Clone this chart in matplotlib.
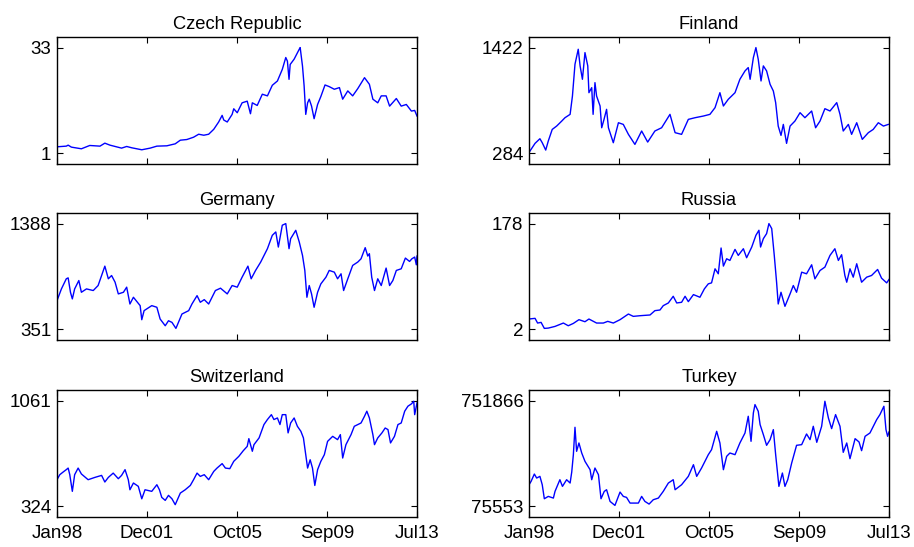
import numpy as np
from matplotlib import pyplot as plt

# time axis is years since Jan 1998
czech_t = [0.00, 0.40, 0.48, 0.62, 1.05, 1.41, 1.85, 2.06, 2.28, 2.78, 3.00, 3.22, 3.65, 4.01,
           4.30, 4.73, 5.09, 5.31, 5.59, 5.88, 6.10, 6.32, 6.53, 6.75, 6.96, 7.11, 7.18, 7.33,
           7.54, 7.61, 7.76, 7.97, 8.19, 8.33, 8.41, 8.62, 8.84, 9.06, 9.27, 9.49, 9.70, 9.85,
           9.92, 9.99, 10.04, 10.21, 10.43, 10.47, 10.57, 10.64, 10.71, 10.79, 10.86, 10.96,
           11.07, 11.22, 11.36, 11.54, 11.72, 11.94, 12.16, 12.30, 12.52, 12.73, 12.95, 13.24,
           13.45, 13.60, 13.81, 13.96, 14.17, 14.32, 14.61, 14.82, 15.04, 15.26, 15.40, 15.50]
czech_v = [3.0, 3.2, 3.5, 2.9, 2.4, 3.4, 3.2, 4.1, 3.5, 2.6, 3.1, 2.7, 2.1, 2.6,
           3.2, 3.3, 3.9, 5.0, 5.2, 5.9, 6.8, 6.5, 6.8, 8.3, 10.5, 12.5, 11.1, 10.5,
           12.8, 14.5, 13.3, 16.3, 16.8, 13.0, 16.3, 15.5, 18.9, 18.4, 21.6, 22.9, 26.4, 30.0,
           28.9, 23.4, 27.9, 29.5, 32.5, 33.0, 27.4, 21.4, 12.8, 16.3, 17.4, 15.3,
           11.5, 15.8, 18.2, 21.7, 21.2, 20.4, 20.9, 17.4, 19.9, 18.4, 20.6, 23.9,
           21.9, 17.4, 16.3, 18.4, 18.4, 15.3, 17.6, 15.3, 15.8, 13.8, 14.0, 12.3]

finland_t = [0.04, 0.26, 0.47, 0.57, 0.72, 0.83, 1.00, 1.19, 1.41, 1.55, 1.77, 1.87, 1.98, 2.12,
             2.20, 2.30, 2.41, 2.53, 2.58, 2.70, 2.76, 2.84, 2.91, 3.06, 3.13, 3.23, 3.34, 3.42,
             3.63, 3.85, 4.06, 4.28, 4.56, 4.85, 5.11, 5.42, 5.71, 6.07, 6.29, 6.57, 6.86, 7.15,
             7.51, 7.79, 8.01, 8.22, 8.37, 8.58, 8.87, 9.08, 9.30, 9.44, 9.52, 9.66, 9.77, 9.87,
             9.99, 10.09, 10.23, 10.38, 10.52, 10.62, 10.73, 10.85, 10.95, 11.09, 11.24, 11.45,
             11.67, 11.88, 12.17, 12.34, 12.53, 12.74, 12.96, 13.25, 13.39, 13.53, 13.75, 13.89,
             14.11, 14.35, 14.61, 14.82, 15.04, 15.26, 15.47]
finland_v = [309, 392, 442, 399, 320, 417, 542, 578, 632, 668, 704, 901, 1243, 1404,
             1225, 1081, 1368, 1225, 937, 991, 704, 1045, 901, 794, 560, 650, 758, 560,
             399, 614, 596, 489, 381, 525, 406, 525, 560, 704, 507, 489, 650, 668,
             686, 704, 776, 937, 794, 866, 937, 1081, 1171, 1207, 1081, 1314, 1422, 1296,
             1063, 1225, 1171, 1027, 955, 830, 578, 478, 596, 392, 578, 632,
             722, 668, 740, 560, 632, 765, 740, 830, 704, 525, 596, 489,
             614, 435, 507, 542, 614, 578, 596]

germany_t = [0.00, 0.19, 0.40, 0.48, 0.58, 0.66, 0.76, 0.94, 1.05, 1.27, 1.56, 1.77, 1.92, 2.06,
             2.21, 2.35, 2.50, 2.64, 2.86, 3.00, 3.14, 3.29, 3.58, 3.65, 3.75, 4.08, 4.30, 4.44,
             4.66, 4.80, 4.95, 5.12, 5.38, 5.67, 5.81, 6.03, 6.17, 6.34, 6.53, 6.82, 7.04, 7.33,
             7.54, 7.76, 7.97, 8.22, 8.36, 8.55, 8.77, 9.06, 9.27, 9.42, 9.53, 9.70, 9.85, 9.99,
             10.06, 10.28, 10.43, 10.57, 10.67, 10.76, 10.86, 10.96, 11.07, 11.22, 11.36, 11.58,
             11.72, 11.94, 12.08, 12.23, 12.34, 12.52, 12.73, 12.95, 13.09, 13.27, 13.38, 13.45,
             13.55, 13.67, 13.81, 13.96, 14.17, 14.32, 14.46, 14.61, 14.82, 15.00, 15.18, 15.28,
             15.40, 15.47, 15.50]
germany_v = [633, 748, 847, 856, 715, 650, 748, 830, 715, 748, 732, 781, 879, 971,
             847, 879, 814, 699, 715, 765, 600, 666, 584, 446, 535, 584, 568, 453,
             387, 436, 420, 361, 502, 535, 600, 682, 617, 643, 600, 732, 755, 699,
             781, 765, 863, 971, 847, 929, 1011, 1142, 1273, 1306, 1158, 1372, 1388, 1142,
             1240, 1322, 1208, 1076, 929, 666, 781, 699, 568, 715, 797, 863,
             929, 912, 847, 896, 732, 847, 978, 1011, 1043, 1152, 1070, 1093,
             863, 732, 847, 781, 952, 781, 830, 929, 945, 1050, 1017, 1043,
             1060, 984, 1070]

russia_t = [0.00, 0.26, 0.37, 0.52, 0.66, 0.83, 1.12, 1.48, 1.69, 1.91, 2.15, 2.41, 2.58, 2.91,
            3.20, 3.39, 3.63, 3.92, 4.28, 4.49, 4.78, 5.21, 5.42, 5.64, 5.78, 6.00, 6.21, 6.36,
            6.57, 6.72, 6.86, 7.08, 7.36, 7.55, 7.72, 7.86, 8.01, 8.15, 8.27, 8.37, 8.51, 8.65,
            8.87, 9.01, 9.23, 9.37, 9.59, 9.77, 9.90, 9.97, 10.09, 10.23, 10.33, 10.45, 10.56,
            10.66, 10.73, 10.85, 11.02, 11.24, 11.38, 11.52, 11.74, 11.95, 12.17, 12.31, 12.53,
            12.74, 12.96, 13.17, 13.32, 13.46, 13.60, 13.68, 13.82, 13.96, 14.11, 14.32, 14.54,
            14.75, 15.01, 15.18, 15.40, 15.50]
russia_v = [19.3, 20.4, 12.6, 13.7, 3.7, 4.2, 7.0, 12.6, 8.1, 12.0, 18.2, 14.8, 19.3, 12.6,
            12.6, 15.4, 12.6, 18.2, 27.6, 23.7, 24.8, 26.0, 33.2, 34.3, 41.5, 46.0, 57.1, 46.0,
            47.1, 57.1, 48.2, 59.9, 55.5, 69.4, 77.8, 79.4, 102.8, 94.5, 137.4, 107.3, 119.5, 116.7,
            135.1, 125.1, 136.2, 121.2, 139.0, 158.5, 166.9, 139.0, 152.9, 161.3, 178.0, 169.7, 125.1,
            80.5, 44.3, 63.8, 40.4, 61.0, 75.0, 63.8, 97.2, 94.5, 109.5, 86.1, 100.0,
            105.6, 125.1, 136.2, 116.7, 126.2, 91.7, 80.5, 102.8, 88.9, 111.2, 80.5, 88.9,
            91.7, 101.7, 87.2, 79.4, 85.0]

swiss_t = [0.00, 0.12, 0.26, 0.40, 0.48, 0.55, 0.66, 0.76, 0.91, 1.05, 1.34, 1.63, 1.92, 2.06,
           2.21, 2.42, 2.64, 2.78, 2.93, 3.07, 3.14, 3.29, 3.50, 3.65, 3.79, 4.08, 4.30, 4.41,
           4.51, 4.66, 4.80, 4.95, 5.09, 5.31, 5.52, 5.74, 5.88, 6.03, 6.17, 6.34, 6.53, 6.75,
           6.89, 7.11, 7.25, 7.44, 7.61, 7.83, 8.02, 8.19, 8.26, 8.41, 8.48, 8.70, 8.91, 9.06,
           9.23, 9.34, 9.49, 9.60, 9.70, 9.85, 9.95, 10.06, 10.21, 10.35, 10.50, 10.61, 10.71,
           10.79, 10.90, 11.00, 11.10, 11.22, 11.36, 11.51, 11.65, 11.87, 12.08, 12.20, 12.30,
           12.44, 12.66, 12.80, 13.09, 13.24, 13.34, 13.45, 13.60, 13.67, 13.81, 13.99, 14.13,
           14.25, 14.36, 14.53, 14.68, 14.82, 14.97, 15.11, 15.26, 15.36, 15.40, 15.50]
swiss_v = [510, 545, 563, 580, 591, 545, 429, 545, 591, 550, 510, 526, 540, 494,
           526, 556, 517, 540, 580, 510, 440, 487, 464, 377, 440, 429, 475, 440,
           387, 366, 401, 377, 336, 417, 440, 470, 510, 556, 533, 545, 510, 568,
           591, 622, 591, 587, 638, 673, 712, 742, 796, 708, 754, 801, 894, 929,
           963, 929, 940, 894, 963, 963, 836, 905, 940, 882, 847, 801, 684,
           591, 649, 591, 470, 580, 638, 684, 777, 812, 789, 824, 661,
           754, 824, 882, 905, 952, 987, 940, 824, 754, 801, 836, 870,
           859, 766, 812, 894, 905, 987, 1022, 1038, 1056, 963, 1045]

turkey_t = [0.00, 0.09, 0.23, 0.33, 0.47, 0.57, 0.66, 0.83, 1.05, 1.12, 1.33, 1.44, 1.62, 1.77,
            1.84, 1.91, 1.98, 2.05, 2.15, 2.27, 2.41, 2.63, 2.70, 2.84, 2.99, 3.10, 3.24, 3.34,
            3.49, 3.70, 3.92, 4.06, 4.20, 4.35, 4.56, 4.71, 4.85, 4.99, 5.17, 5.35, 5.57, 5.78,
            6.00, 6.21, 6.29, 6.57, 6.86, 7.08, 7.22, 7.43, 7.72, 7.86, 8.08, 8.22, 8.37, 8.51,
            8.65, 8.87, 9.08, 9.30, 9.44, 9.56, 9.66, 9.73, 9.87, 9.95, 10.09, 10.23, 10.38,
            10.52, 10.62, 10.76, 10.91, 11.02, 11.14, 11.31, 11.52, 11.74, 11.95, 12.10, 12.24,
            12.39, 12.60, 12.74, 12.89, 13.03, 13.20, 13.39, 13.53, 13.68, 13.82, 14.04, 14.21,
            14.32, 14.47, 14.68, 14.97, 15.11, 15.28, 15.37, 15.44, 15.50]
turkey_v = [214000, 235600, 282500, 256900, 267600, 214200, 124600, 139600, 128900, 171600,
            246200, 203600, 246200, 224900, 295300, 406200, 581200, 427600, 480900, 416900,
            363600, 310200, 246200, 320900, 278200, 124600, 171600, 182200, 107600, 82000,
            167300, 139600, 133200, 96900, 96900, 96900, 139600, 107600, 90500, 118200,
            128900, 171600, 224900, 246200, 182200, 214200, 267600, 342200, 267600, 320900,
            406200, 438200, 555600, 480900, 310200, 395600, 416900, 406200, 480900, 544900,
            651600, 491600, 672900, 726300, 683600, 598300, 534300, 466000, 502300, 566300,
            406200, 203600, 288900, 203600, 246200, 352900, 466000, 470300, 538500, 502300,
            587600, 485200, 587600, 747600, 640900, 572700, 662300, 587600, 421200, 480900,
            380600, 508600, 487300, 431800, 523600, 544900, 630300, 662300, 715600, 566300,
            523600, 551300]

countries = ["Czech Republic", "Finland", "Germany", "Russia", "Switzerland", "Turkey"]
times = [czech_t, finland_t, germany_t, russia_t, swiss_t, turkey_t]
values = [czech_v, finland_v, germany_v, russia_v, swiss_v, turkey_v]
y_ticks = [(1, 33), (284, 1422), (351, 1388), (2, 178), (324, 1061), (75553, 751866)]
x_labels = ["Jan98", "Dec01", "Oct05", "Sep09", "Jul13"]

plt.rcParams['font.family'] = ['Liberation Sans', 'DejaVu Sans']

fig = plt.figure(figsize=(9.14, 5.47), dpi=100)

lefts = [57, 529]
tops = [37, 213, 390]
w_px, h_px = 360, 127
x_ticks = np.linspace(1998, 2013.5, 5)

for i, name in enumerate(countries):
    row, col = i // 2, i % 2
    ax = fig.add_axes([lefts[col] / 914, 1 - (tops[row] + h_px) / 547, w_px / 914, h_px / 547])
    t = 1998 + np.array(times[i])
    ax.plot(t, values[i], color=(0, 0, 1), lw=1.0)
    lo, hi = y_ticks[i]
    rng = hi - lo
    ax.set_ylim(lo - 0.1 * rng, hi + 0.1 * rng)
    ax.set_xlim(1998, 2013.5)
    ax.set_yticks([lo, hi])
    ax.set_yticklabels([str(lo), str(hi)])
    ax.set_xticks(x_ticks)
    if row == 2:
        ax.set_xticklabels(x_labels)
    else:
        ax.set_xticklabels([])
    ax.tick_params(direction='in', length=4, width=0.8, top=True, right=True,
                   labelsize=13.5, pad=4)
    ax.tick_params(axis='x', pad=6)
    for s in ax.spines.values():
        s.set_linewidth(1.0)
    ax.set_title(name, fontsize=13.2, pad=6)

fig.savefig('out.png', dpi=100)
